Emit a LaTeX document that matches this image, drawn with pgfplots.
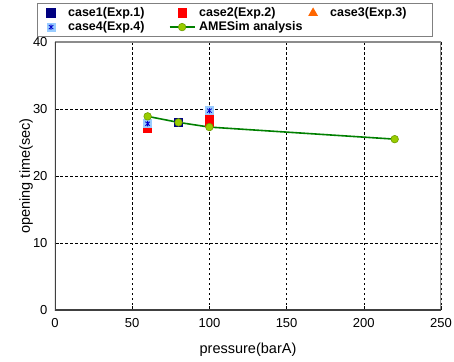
\documentclass[border=0pt]{standalone}
\usepackage{pgfplots}
\pgfplotsset{compat=1.18}
\usepackage{fontspec}
\setmainfont{Liberation Sans}
\definecolor{navy}{HTML}{000080}
\definecolor{cred}{HTML}{FF0000}
\definecolor{corange}{HTML}{FF6600}
\definecolor{c4fill}{HTML}{99CCFF}
\definecolor{c4star}{HTML}{0000CC}
\definecolor{aline}{HTML}{008000}
\definecolor{amark}{HTML}{99CC00}
\definecolor{amarkd}{HTML}{6E9E00}
\pgfdeclareplotmark{sqast}{%
  \pgfsetfillcolor{c4fill}%
  \pgfpathrectangle{\pgfqpoint{-\pgfplotmarksize}{-\pgfplotmarksize}}{\pgfqpoint{2\pgfplotmarksize}{2\pgfplotmarksize}}%
  \pgfusepathqfill
  \pgfsetstrokecolor{c4star}\pgfsetlinewidth{0.8pt}%
  \pgfpathmoveto{\pgfqpoint{0pt}{-0.6\pgfplotmarksize}}\pgfpathlineto{\pgfqpoint{0pt}{0.6\pgfplotmarksize}}%
  \pgfpathmoveto{\pgfqpoint{-0.5\pgfplotmarksize}{-0.45\pgfplotmarksize}}\pgfpathlineto{\pgfqpoint{0.5\pgfplotmarksize}{0.45\pgfplotmarksize}}%
  \pgfpathmoveto{\pgfqpoint{-0.5\pgfplotmarksize}{0.45\pgfplotmarksize}}\pgfpathlineto{\pgfqpoint{0.5\pgfplotmarksize}{-0.45\pgfplotmarksize}}%
  \pgfusepathqstroke
}
\newcommand{\legent}[1]{\hspace*{3pt}\makebox[100pt][l]{#1}}
\begin{document}
\begin{tikzpicture}
\begin{axis}[
  at={(0,0)}, anchor=south west,
  scale only axis, width=386pt, height=268pt,
  xmin=0, xmax=250, ymin=0, ymax=40,
  xtick={0,50,100,150,200,250}, ytick={0,10,20,30,40},
  grid=major,
  major grid style={black, line width=0.6pt, dash pattern=on 2.5pt off 2.5pt},
  axis line style={draw=none},
  tick align=inside, xtick pos=bottom, ytick pos=left,
  major tick length=4pt, tick style={black, line width=0.6pt},
  /pgf/number format/assume math mode=true,
  ticklabel style={font=\fontsize{13}{15}\selectfont},
  xticklabel style={yshift=-5pt},
  yticklabel style={xshift=-4pt},
  xlabel={pressure(barA)}, ylabel={opening time(sec)},
  every axis x label/.style={at={(axis description cs:0.5,-0.149)}, anchor=center, font=\fontsize{14.5}{16}\selectfont},
  every axis y label/.style={at={(axis description cs:-0.075,0.5)}, anchor=center, rotate=90, font=\fontsize{14.5}{16}\selectfont},
  legend columns=3,
  legend cell align=left,
  legend image code/.code={\pgfpathrectangle{\pgfqpoint{0pt}{-3pt}}{\pgfqpoint{25pt}{6pt}}\pgfusepath{use as bounding box}\draw[mark repeat=2,mark phase=2,#1] plot coordinates {(0pt,0pt) (12.5pt,0pt) (25pt,0pt)};},
  legend style={at={(axis description cs:0,1)}, anchor=north west, xshift=-18pt, yshift=39pt,
    draw=black!50, line width=1.2pt, fill=white, inner xsep=1pt, inner ysep=2.5pt,
    font=\bfseries\fontsize{12.5}{13}\selectfont,
    nodes={inner xsep=1.5pt, inner ysep=0.5pt, text height=10pt, text depth=3pt},
    column sep=0pt},
]
\addplot[only marks, mark=square*, mark size=4pt, draw=navy, fill=navy] coordinates {(60,27.6) (80,28.0) (100,28.3)};
\addlegendentry{\legent{case1(Exp.1)}}
\addplot[only marks, mark=square*, mark size=4pt, draw=cred, fill=cred] coordinates {(60,27.1) (100,28.1) (100,28.6)};
\addlegendentry{\legent{case2(Exp.2)}}
\addplot[only marks, mark=triangle*, mark size=4.5pt, draw=corange, fill=corange] coordinates {(60,27.8) (100,29.8)};
\addlegendentry{\legent{case3(Exp.3)}}
\addplot[only marks, mark=sqast, mark size=4.5pt] coordinates {(60,27.8) (100,29.75)};
\addlegendentry{\legent{case4(Exp.4)}}
\addplot[aline, line width=1.6pt, mark=*, mark size=3.8pt, mark options={fill=amark, draw=amarkd, line width=0.6pt}] coordinates {(60,28.9) (80,28.0) (100,27.3) (220,25.5)};
\addlegendentry{\legent{AMESim analysis}}
\draw[black!45, line width=1.2pt] (rel axis cs:0,1) -- (rel axis cs:1,1) -- (rel axis cs:1,0);
\draw[black!75, line width=1.2pt] (rel axis cs:0,1) -- (rel axis cs:0,0) -- (rel axis cs:1,0);
\end{axis}
\pgfresetboundingbox
\path (-55pt,-51pt) rectangle (399pt,310pt);
\end{tikzpicture}
\end{document}
